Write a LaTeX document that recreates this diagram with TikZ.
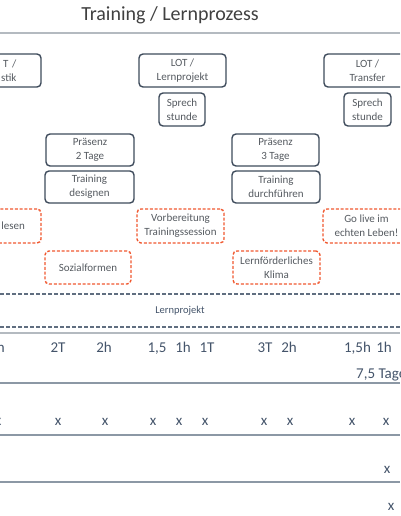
\documentclass[tikz,border=0pt]{standalone}
\usepackage{fontspec}
\setmainfont{Carlito}
\definecolor{slate}{HTML}{44546A}
\definecolor{boxline}{HTML}{3E4B5B}
\definecolor{boxtext}{HTML}{555A60}
\definecolor{orangeline}{HTML}{F0582F}
\definecolor{ruleline}{HTML}{B4BAC0}
\definecolor{thinline}{HTML}{8C98A5}
\begin{document}
\begin{tikzpicture}[x=1pt,y=-1pt,
    plan/.style={draw=boxline,line width=1.4pt,rounded corners=4pt,text=boxtext,
      align=center,inner sep=0pt,font=\fontsize{11}{14}\selectfont},
    task/.style={draw=orangeline,line width=1.4pt,dash pattern=on 3pt off 1.8pt,
      rounded corners=4pt,text=boxtext,align=center,inner sep=0pt,
      font=\fontsize{11}{14}\selectfont},
    hours/.style={text=slate,inner sep=0pt,anchor=base,font=\fontsize{15}{18}\selectfont},
    cross/.style={text=slate,inner sep=0pt,anchor=base,font=\fontsize{15}{18}\selectfont}]
  \useasboundingbox (0,0) rectangle (400,516);
  \clip (0,0) rectangle (400,516);

  % Title and rule
  \node (title) at (170,15) [text=black!75,font=\fontsize{20}{24}\selectfont] {Training / Lernprozess};
  \draw [ruleline,line width=2pt] (0,33) -- (400,33);

  % LOT boxes
  \node (lotdiag) at (-2,70.5) [plan,minimum width=86pt,minimum height=33pt,text width=37pt,align=right] {T /\\stik};
  \node (lotlern) at (182.5,70.5) [plan,minimum width=87pt,minimum height=33pt] {LOT /\\Lernprojekt};
  \node (lottrans) at (367.5,70.5) [plan,minimum width=87pt,minimum height=33pt] {LOT /\\Transfer};

  % Sprechstunden
  \node (sprecha) at (182,109.5) [plan,minimum width=46pt,minimum height=33pt] {Sprech\\stunde};
  \node (sprechb) at (367.5,109.5) [plan,minimum width=47pt,minimum height=33pt] {Sprech\\stunde};

  % Praesenz and training
  \node (praesa) at (90,150) [plan,minimum width=88pt,minimum height=32pt] {Präsenz\\2 Tage};
  \node (designen) at (89.5,187) [plan,minimum width=89pt,minimum height=32pt] {Training\\designen};
  \node (praesb) at (275.5,150) [plan,minimum width=87pt,minimum height=32pt] {Präsenz\\3 Tage};
  \node (durchf) at (276,187) [plan,minimum width=88pt,minimum height=32pt] {Training\\durchführen};

  % Tasks (dashed)
  \node (lesen) at (-5,226) [task,minimum width=92pt,minimum height=34pt,text width=60pt,align=right] {lesen};
  \node (vorber) at (180.5,226) [task,minimum width=87pt,minimum height=34pt] {Vorbereitung\\Trainingssession};
  \node (golive) at (366.5,226) [task,minimum width=87pt,minimum height=34pt] {Go live im\\echten Leben!};
  \node (sozial) at (88,267.5) [task,minimum width=86pt,minimum height=33pt] {Sozialformen};
  \node (klima) at (276.5,267.5) [task,minimum width=87pt,minimum height=33pt] {Lernförderliches\\Klima};

  % Lernprojekt band
  \draw [slate!85,line width=1.6pt,dash pattern=on 4pt off 2pt] (0,294) -- (400,294);
  \node (projekt) at (180,311) [text=slate,font=\fontsize{10.5}{12}\selectfont] {Lernprojekt};
  \draw [slate!85,line width=1.6pt,dash pattern=on 4pt off 2pt] (0,327) -- (400,327);
  \draw [ruleline,line width=2pt] (0,333) -- (400,333);

  % Hours row
  \node (ha) at (-3,352) [hours] {2h};
  \node (hb) at (58,352) [hours] {2T};
  \node (hc) at (104,352) [hours] {2h};
  \node (hd) at (157,352) [hours] {1,5};
  \node (he) at (183,352) [hours] {1h};
  \node (hf) at (207,352) [hours] {1T};
  \node (hg) at (265,352) [hours] {3T};
  \node (hh) at (289,352) [hours] {2h};
  \node (hi) at (357.5,352) [hours] {1,5h};
  \node (hj) at (384,352) [hours] {1h};
  \node (sum) at (356,378) [hours,anchor=base west] {7,5 Tage};
  \draw [thinline,line width=1.2pt] (0,383) -- (400,383);

  % Crosses
  \node (xa) at (-2,425) [cross] {x};
  \node (xb) at (58,425) [cross] {x};
  \node (xc) at (105,425) [cross] {x};
  \node (xd) at (153,425) [cross] {x};
  \node (xe) at (179,425) [cross] {x};
  \node (xf) at (205,425) [cross] {x};
  \node (xg) at (264,425) [cross] {x};
  \node (xh) at (290,425) [cross] {x};
  \node (xi) at (352,425) [cross] {x};
  \node (xj) at (386,425) [cross] {x};
  \draw [thinline,line width=1.2pt] (0,435) -- (400,435);
  \node (xk) at (387,473) [cross] {x};
  \draw [thinline,line width=1.2pt] (0,482) -- (400,482);
  \node (xl) at (391,510) [cross] {x};
\end{tikzpicture}
\end{document}
